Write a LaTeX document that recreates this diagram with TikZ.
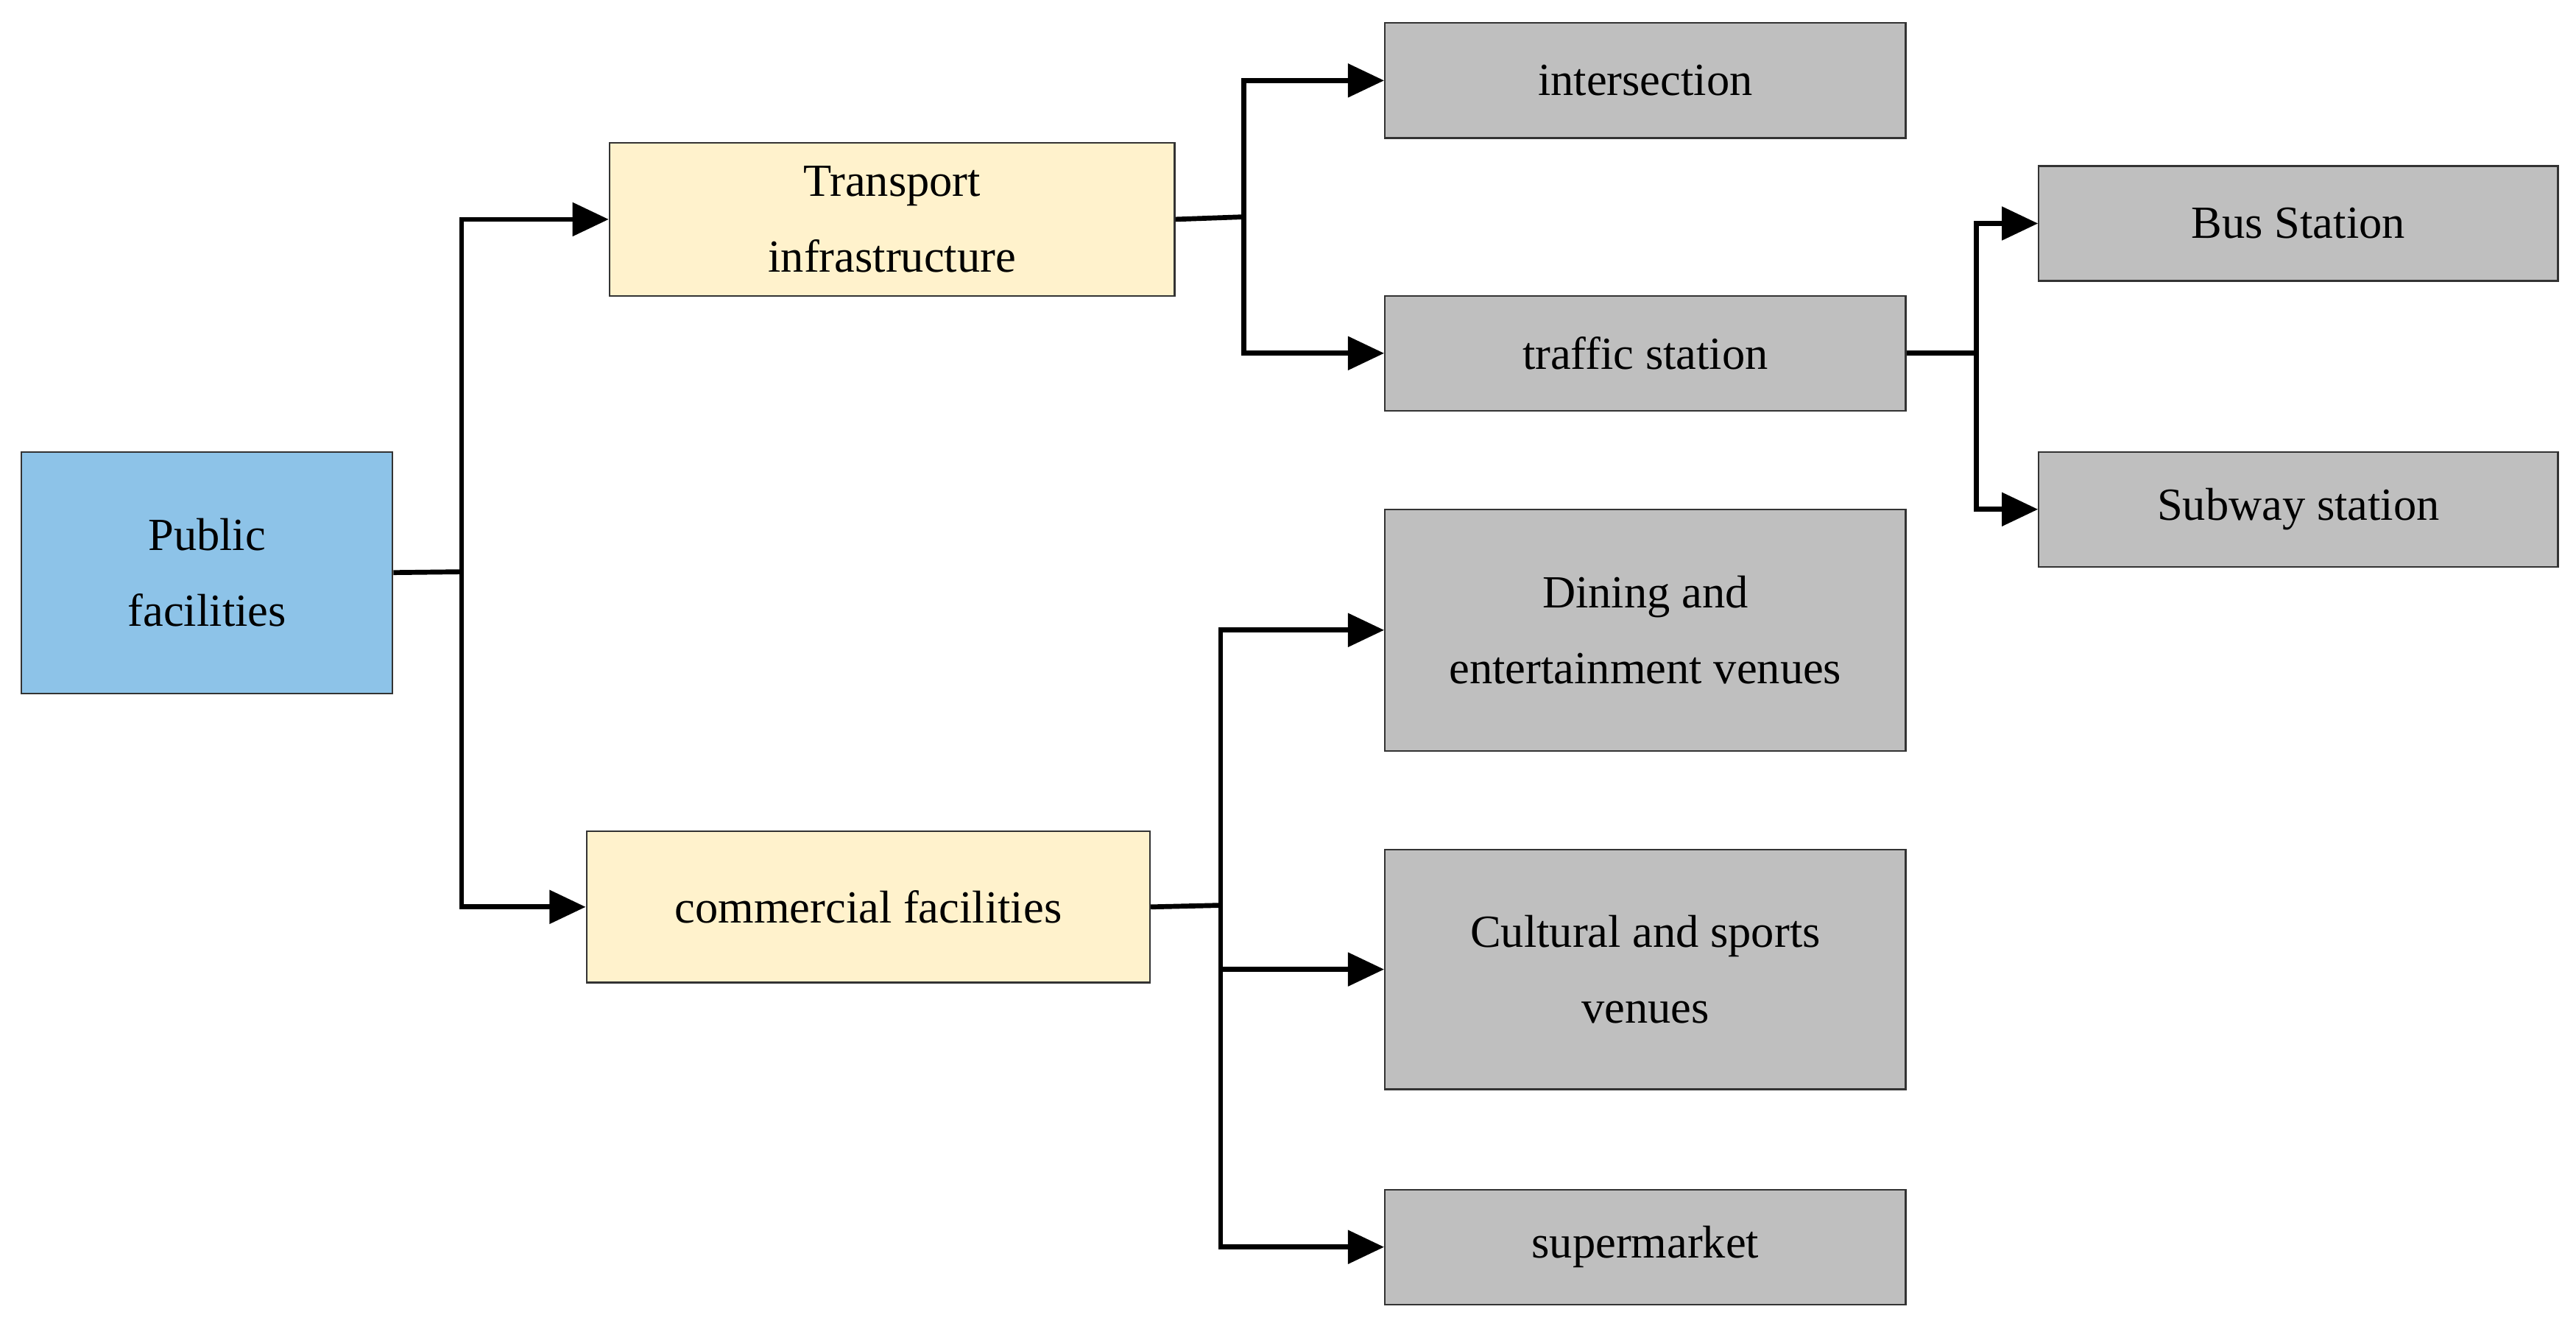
\documentclass[tikz,border=0pt]{standalone}
\usepackage{fontspec}
\setmainfont{Liberation Serif}
\usetikzlibrary{arrows.meta}
\begin{document}
\begin{tikzpicture}[x=1pt,y=-1pt,
 box/.style={draw=black!80,line width=1pt,inner sep=0pt,align=center,font=\fontsize{28}{46}\selectfont},
 gray/.style={box,fill=black!25},
 cream/.style={box,fill={rgb,255:red,255;green,242;blue,204}},
 blue/.style={box,fill={rgb,255:red,141;green,195;blue,232}},
 ln/.style={line width=3pt},
 ar/.style={line width=3pt,-{Triangle[length=22pt,width=20pt]}}]
\useasboundingbox (0,0) rectangle (1568,807);
\node[blue,minimum width=226pt,minimum height=147pt] (pub) at (126,348.5) {Public\\facilities};
\node[cream,minimum width=344pt,minimum height=93pt] (tr) at (543,133.5) {Transport\\infrastructure};
\node[cream,minimum width=343pt,minimum height=92pt] (com) at (528.5,552) {commercial facilities};
\node[gray,minimum width=317pt,minimum height=70pt] (int) at (1001.5,49) {intersection};
\node[gray,minimum width=317pt,minimum height=70pt] (ts) at (1001.5,215) {traffic station};
\node[gray,minimum width=316pt,minimum height=70pt] (bus) at (1399,136) {Bus Station};
\node[gray,minimum width=316pt,minimum height=70pt] (sub) at (1399,310) {Subway station};
\node[gray,minimum width=317pt,minimum height=147pt] (din) at (1001.5,383.5) {Dining and\\entertainment venues};
\node[gray,minimum width=317pt,minimum height=146pt] (cul) at (1001.5,590) {Cultural and sports\\venues};
\node[gray,minimum width=317pt,minimum height=70pt] (sup) at (1001.5,759) {supermarket};
\coordinate (j1) at (281,348);
\coordinate (j2) at (757,132);
\coordinate (j3) at (1203,215);
\coordinate (j4) at (743,551);
\draw[ln] (pub.east) -- (j1);
\draw[ar] (j1) |- (tr.west);
\draw[ar] (j1) |- (com.west);
\draw[ln] (tr.east) -- (j2);
\draw[ar] (j2) |- (int.west);
\draw[ar] (j2) |- (ts.west);
\draw[ln] (ts.east) -- (j3);
\draw[ar] (j3) |- (bus.west);
\draw[ar] (j3) |- (sub.west);
\draw[ln] (com.east) -- (j4);
\draw[ar] (j4) |- (din.west);
\draw[ar] (j4) |- (cul.west);
\draw[ar] (j4) |- (sup.west);
\end{tikzpicture}
\end{document}
